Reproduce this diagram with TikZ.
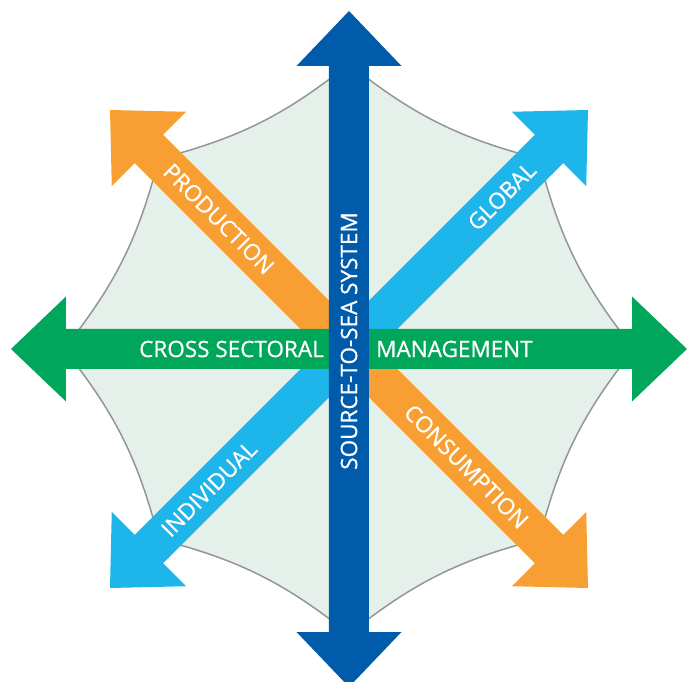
\documentclass[tikz,border=0pt]{standalone}
\usepackage{fontspec}
\setmainfont{Open Sans}
\newfontfamily\arrowfont{Open Sans}[FakeBold=0.8]
\definecolor{seablue}{RGB}{0,91,170}
\definecolor{sectgreen}{RGB}{0,166,90}
\definecolor{prodorange}{RGB}{247,159,50}
\definecolor{globalblue}{RGB}{29,181,234}
\definecolor{basinfill}{RGB}{230,240,234}
\definecolor{basinline}{RGB}{147,149,152}
\def\bigarrow[#1](#2){\fill[#1,rotate=#2] (-338,0) -- (-283,52.5) -- (-283,20) -- (283,20) -- (283,52.5) -- (338,0) -- (283,-52.5) -- (283,-20) -- (-283,-20) -- (-283,-52.5) -- cycle;}
\tikzset{
  arrowtext/.style={text=white, inner sep=0pt, font=\arrowfont\fontsize{22.5}{26}\selectfont},
  basin/.style={fill=basinfill, draw=basinline, line width=1.5pt}
}

\begin{document}
\begin{tikzpicture}[x=1pt, y=1pt]
		%%%%% START %%%%%
		\useasboundingbox (-349,-333) rectangle (347,349);
		
		\foreach \a/\r in {0/285, 45/269, 90/285, 135/269, 180/285, 225/269, 270/285, 315/269}
			\coordinate (v\a) at (\a:\r);
		\draw[basin] (v0) to[bend left=12] (v45) to[bend left=12] (v90) to[bend left=12] (v135) to[bend left=12] (v180)
			to[bend left=12] (v225) to[bend left=12] (v270) to[bend left=12] (v315) to[bend left=12] (v0);
		
		\bigarrow[globalblue](45);
		\node[arrowtext, rotate=45] (global) at (45:216) {GLOBAL};
		\node[arrowtext, rotate=45] (individual) at (225:198) {INDIVIDUAL};
		
		\bigarrow[prodorange](-45);
		\node[arrowtext, rotate=-45] (production) at (135:184) {PRODUCTION};
		\node[arrowtext, rotate=-45] (consumption) at (-45:166) {CONSUMPTION};
		
		\bigarrow[sectgreen](0);
		\node[arrowtext, anchor=east] (cross) at (-25,0) {CROSS SECTORAL};
		\node[arrowtext, anchor=west] (management) at (27,0) {MANAGEMENT};
		
		\bigarrow[seablue](90);
		\node[arrowtext, rotate=90] (source) at (0,8) {SOURCE-TO-SEA SYSTEM};
		
		%%%%% END %%%%%
\end{tikzpicture}
\end{document}
